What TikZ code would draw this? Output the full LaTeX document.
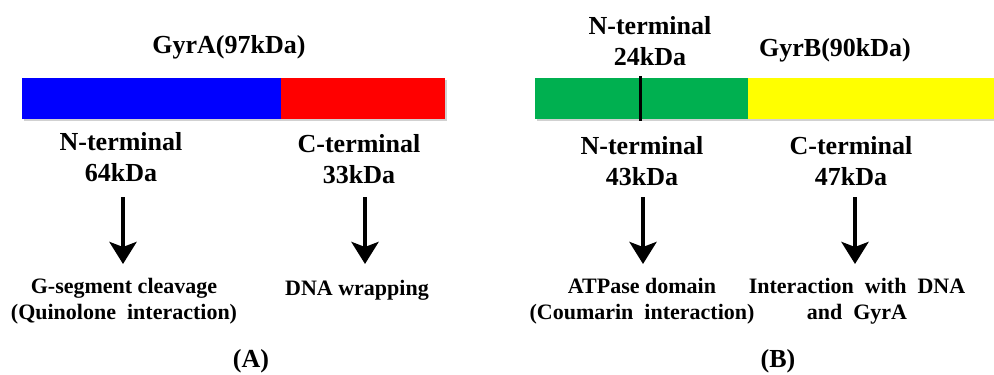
\documentclass[tikz,border=0pt]{standalone}
\usepackage{fontspec}
\setmainfont{Liberation Serif}
\usetikzlibrary{arrows.meta}
\definecolor{gblue}{RGB}{0,0,255}
\definecolor{gred}{RGB}{255,0,0}
\definecolor{ggreen}{RGB}{0,176,80}
\definecolor{gyellow}{RGB}{255,255,0}
\begin{document}
\begin{tikzpicture}[x=1pt,y=-1pt,
  lab/.style={align=center,inner sep=0pt,font=\fontsize{26}{31}\selectfont\bfseries},
  desc/.style={align=center,inner sep=0pt,font=\fontsize{22}{26}\selectfont\bfseries},
  seg/.style={draw=none,minimum height=41pt,inner sep=0pt,anchor=north west},
  arr/.style={line width=4.5pt,-{Stealth[length=22pt,width=27pt,inset=5pt]}},
  tick/.style={line width=3pt}]
\useasboundingbox (0,0) rectangle (994,375);
% shadows
\fill[black!18] (24,80) rectangle (447,121);
\fill[black!18] (537,80) rectangle (996,121);
% bars A
\node[seg,fill=gblue,minimum width=259pt] (blue) at (22,78) {};
\node[seg,fill=gred,minimum width=164pt] (red) at (281,78) {};
% bars B
\node[seg,fill=ggreen,minimum width=213pt] (green) at (535,78) {};
\node[seg,fill=gyellow,minimum width=246pt] (yellow) at (748,78) {};
\coordinate (tt) at (640,76);
\coordinate (tb) at (640,121);
\draw[tick] (tt) -- (tb);
% labels A
\node[lab] (gyra) at (229,47) {GyrA(97kDa)};
\node[lab] (nA) at (121,157) {N-terminal\\64kDa};
\node[lab] (cA) at (359,159) {C-terminal\\33kDa};
\node[desc] (dA1) at (124,301) {G-segment cleavage\\(Quinolone\ \ interaction)};
\node[desc] (dA2) at (357,290) {DNA wrapping};
\node[lab] (A) at (251,361) {(A)};
% labels B
\node[lab] (nB0) at (650,41) {N-terminal\\24kDa};
\node[lab] (gyrb) at (835,50) {GyrB(90kDa)};
\node[lab] (nB) at (642,161) {N-terminal\\43kDa};
\node[lab] (cB) at (851,161) {C-terminal\\47kDa};
\node[desc] (dB1) at (642,301) {ATPase domain\\(Coumarin\ \ interaction)};
\node[desc] (dB2) at (857,301) {Interaction\ \ with\ \ DNA\\and\ \ GyrA};
\node[lab] (B) at (778,361) {(B)};
% arrows
\coordinate (a1s) at (123,197); \coordinate (a1e) at (123,264);
\coordinate (a2s) at (365,197); \coordinate (a2e) at (365,264);
\coordinate (b1s) at (643,197); \coordinate (b1e) at (643,264);
\coordinate (b2s) at (855,197); \coordinate (b2e) at (855,264);
\draw[arr] (a1s) -- (a1e);
\draw[arr] (a2s) -- (a2e);
\draw[arr] (b1s) -- (b1e);
\draw[arr] (b2s) -- (b2e);
\end{tikzpicture}
\end{document}
